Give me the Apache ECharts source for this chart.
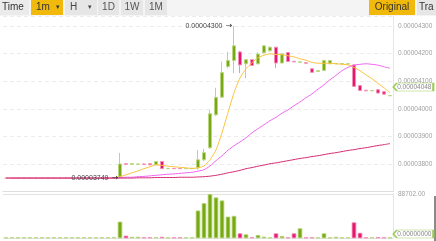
<!DOCTYPE html>
<html><head><meta charset="utf-8">
<script src="https://cdn.jsdelivr.net/npm/echarts@6/dist/echarts.min.js"></script>
<style>html,body{margin:0;padding:0;background:#fff}#c{width:436px;height:241px}</style>
</head><body><div id="c"></div>
<script>
// prices in units of 1e-8
const openP  = [3749,3749,3749,3749,3749,3749,3749,3749,3749,3749,3749,3749,3749,3749,3749,3749,3749,3749,3749,
  3752,3801,3799,3799,3800,3801,3797,3809,3783,3784,3784,3783,3783,
  3786,3815,3859,3978,4042,4153,4175,4206,4163,4178,4163,4203,4210,4223,4166,4204,4172,4169,4167,
  4145,4135,4139,4163,4163,4163,4162,4159,4084,4067,4065,4069,4062,4047];
const closeP = [3749,3749,3749,3749,3749,3749,3749,3749,3749,3749,3749,3749,3749,3749,3749,3749,3749,3749,3749,
  3800,3799,3801,3800,3798,3797,3809,3783,3784,3783,3783,3784,3784,
  3815,3841,3982,4041,4131,4175,4228,4159,4178,4157,4198,4228,4223,4166,4199,4171,4170,4170,4165,
  4132,4138,4175,4175,4164,4164,4163,4081,4066,4065,4066,4057,4053,4048];
const lowP   = [3749,3749,3749,3749,3749,3749,3749,3749,3749,3749,3749,3749,3749,3749,3749,3749,3749,3749,3749,
  3749,3798,3798,3798,3797,3796,3796,3782,3782,3782,3782,3782,3783,
  3780,3810,3855,3975,4040,4147,4129,4129,4111,4155,4161,4200,4208,4147,4164,4170,4169,4168,4164,
  4131,4134,4138,4162,4162,4162,4161,4080,4065,4064,4064,4056,4052,4047];
const highP  = [3749,3749,3749,3749,3749,3749,3749,3749,3749,3749,3749,3749,3749,3749,3749,3749,3749,3749,3749,
  3840,3802,3802,3801,3801,3802,3810,3810,3785,3785,3784,3785,3785,
  3851,3855,3996,4076,4171,4206,4300,4210,4180,4180,4205,4230,4226,4225,4200,4206,4173,4171,4168,
  4146,4139,4177,4176,4165,4165,4164,4160,4085,4068,4067,4070,4063,4048];
const volume = [0,0,0,0,0,0,0,0,0,0,0,0,0,0,0,0,0,0,0,
  33500,5300,3000,3000,0,0,0,3000,0,0,0,0,0,
  55600,70500,88702,81900,75800,43500,45000,10000,8000,2000,6700,3300,2000,10000,4700,2000,10000,20000,0,
  2000,1000,10000,1000,3000,1000,0,32000,11000,1000,1000,2500,1500,0];
const maYellow = [3749,3749,3749,3749,3749,3749,3749,3749,3749,3749,3749,3749,3749,3749,3749,3749,3749,3749,3749,
  3754,3761,3768,3775,3783,3790,3797,3795,3792,3790,3788,3786,3784,
  3786,3793,3815,3851,3913,3986,4058,4112,4145,4167,4185,4194,4199,4197,4196,4192,4188,4181,4176,
  4168,4165,4165,4165,4163,4161,4159,4150,4138,4123,4109,4092,4076,4058];
const maMagenta = [3749,3749,3749,3749,3749,3749,3749,3749,3749,3749,3749,3749,3749,3749,3749,3749,3749,3749,3749,
  3750,3752,3752,3754,3755,3757,3759,3761,3763,3764,3766,3768,3770,
  3774,3779,3793,3812,3830,3850,3866,3880,3895,3913,3928,3942,3957,3969,3984,3996,4011,4025,4040,
  4054,4071,4087,4105,4121,4138,4150,4158,4161,4163,4161,4158,4152,4147];
const maCrimson = [3749,3749,3749,3749,3749,3749,3749,3749,3749,3749,3749,3749,3749,3749,3749,3749,3749,3749,3749,
  3749,3749,3749,3750,3750,3750,3751,3751,3751,3751,3752,3752,3752,
  3753,3754,3756,3759,3763,3768,3772,3777,3783,3787,3792,3796,3801,3804,3808,3812,3816,3820,3823,
  3827,3830,3834,3838,3841,3845,3849,3852,3856,3859,3863,3867,3870,3874];
const yTicks = [3800,3900,4000,4100,4200,4300];
const volMax = 88702;
const categories = openP.map((_, i) => String(i));

const GREEN = '#78a914', GREEN_L = '#b9d77e', PINK = '#e8166f', PINK_L = '#f38fb6';
const fmt = v => (v / 1e8).toFixed(8);
const FONT = 'Liberation Sans, Arial, sans-serif';

const candleData = openP.map((o, i) => [o, closeP[i], lowP[i], highP[i]]);
const volData = volume.map((v, i) => {
  const up = closeP[i] >= openP[i];
  return { value: v, itemStyle: { color: up ? GREEN : PINK, borderColor: up ? GREEN_L : PINK_L } };
});
const last = openP.length - 1;
const hiIdx = highP.indexOf(Math.max(...highP));
const minLow = Math.min(...lowP);
const loIdx = lowP.lastIndexOf(minLow);

const arrowLabel = v => ({
  show: true, position: 'left', distance: 1,
  formatter: '{t|' + fmt(v) + '} {a|\u2192}',
  rich: {
    t: { color: '#444', fontSize: 7, fontFamily: FONT },
    a: { color: '#333', fontSize: 8, fontFamily: 'DejaVu Sans' }
  }
});

const chart = echarts.init(document.getElementById('c'), null, { renderer: 'canvas' });
const btn = (x, w, fill) => ({ type: 'rect', shape: { x: x, y: 0, width: w, height: 15 }, style: { fill: fill } });
const txt = (x, t, color, size, align) => ({ type: 'text', x: x, y: 7.5,
  style: { text: t, fill: color, font: (size || 10) + 'px ' + FONT, textVerticalAlign: 'middle', textAlign: align || 'left',
    verticalAlign: 'middle', align: align || 'left' } });

chart.setOption({
  animation: false,
  textStyle: { fontFamily: FONT },
  graphic: [
    { type: 'rect', shape: { x: 0, y: 0, width: 436, height: 16 }, style: { fill: '#f4f4f4' } },
    btn(0, 29, '#ebebeb'), txt(2, 'Time', '#333'),
    btn(31, 32, '#f0b90b'), txt(36, '1m', '#333'), txt(56, '▾', '#333', 7),
    btn(65, 32, '#e6e6e6'), txt(70, 'H', '#444'), txt(88, '▾', '#444', 7),
    btn(98, 21, '#e6e6e6'), txt(108.5, '1D', '#555', 10, 'center'),
    btn(121, 22, '#e6e6e6'), txt(132, '1W', '#555', 10, 'center'),
    btn(145, 22, '#e6e6e6'), txt(156, '1M', '#555', 10, 'center'),
    btn(369, 46, '#f0b90b'), txt(392, 'Original', '#333', 10, 'center'),
    btn(417, 19, '#e6e6e6'), txt(419, 'Tra', '#333'),
    { type: 'rect', shape: { x: 434, y: 196, width: 2, height: 45 }, style: { fill: '#8a8a8a' } }
  ],
  grid: [
    { left: 3, right: 43, top: 16.3, height: 175.3 },
    { left: 3, right: 43, top: 194, height: 44.3 }
  ],
  xAxis: [
    { type: 'category', gridIndex: 0, data: categories, boundaryGap: true,
      axisLine: { show: true, lineStyle: { color: '#dedede' } }, axisTick: { show: false }, axisLabel: { show: false }, splitLine: { show: false } },
    { type: 'category', gridIndex: 1, data: categories, boundaryGap: true,
      axisLine: { show: false }, axisTick: { show: false }, axisLabel: { show: false }, splitLine: { show: false } }
  ],
  yAxis: [
    { type: 'value', gridIndex: 0, position: 'right', min: 3700, max: 4335, interval: 100,
      axisLine: { show: true, lineStyle: { color: '#e6e6e6' } }, axisTick: { show: false },
      splitLine: { show: true, lineStyle: { color: '#ececec', type: [4, 3] } },
      axisLabel: { show: true, margin: 5, fontSize: 6.5, color: '#a0a0a0', fontFamily: FONT,
        showMinLabel: false, showMaxLabel: false,
        formatter: v => (yTicks.indexOf(Math.round(v)) >= 0 ? fmt(v) : '') } },
    { type: 'value', gridIndex: 1, position: 'right', min: 0, max: volMax, interval: volMax,
      axisLine: { show: true, lineStyle: { color: '#e6e6e6' } }, axisTick: { show: false },
      splitLine: { show: true, lineStyle: { color: '#e2e2e2' } },
      axisLabel: { show: true, margin: 5, fontSize: 6.5, color: '#a0a0a0', fontFamily: FONT,
        formatter: v => (v > 0 ? v.toFixed(2) : '') } }
  ],
  series: [
    { type: 'candlestick', xAxisIndex: 0, yAxisIndex: 0, data: candleData, barWidth: 4.4,
      itemStyle: { color: GREEN, color0: PINK, borderColor: GREEN_L, borderColor0: PINK_L, borderWidth: 1 },
      markPoint: {
        data: [
          { coord: [hiIdx, highP[hiIdx]], value: highP[hiIdx], symbol: 'circle', symbolSize: 1,
            itemStyle: { color: 'rgba(0,0,0,0)' }, label: arrowLabel(highP[hiIdx]) },
          { coord: [loIdx, minLow], value: minLow, symbol: 'circle', symbolSize: 1,
            itemStyle: { color: 'rgba(0,0,0,0)' }, label: arrowLabel(minLow) },
          { coord: [last, closeP[last]], value: closeP[last],
            symbol: 'path://M0,4 L4,0 L44,0 L44,8 L4,8 Z', symbolSize: [40, 8], symbolKeepAspect: false,
            symbolOffset: [23.3, -8.6],
            itemStyle: { color: '#fff', borderColor: '#9fcc5f', borderWidth: 1 },
            label: { show: true, position: 'inside', offset: [1, 0], color: '#888', fontSize: 6.5, fontFamily: FONT,
              formatter: fmt(closeP[last]) } }
        ]
      } },
    { type: 'line', xAxisIndex: 0, yAxisIndex: 0, data: maYellow, showSymbol: false, smooth: 0.2,
      lineStyle: { color: '#fcc23b', width: 1 } },
    { type: 'line', xAxisIndex: 0, yAxisIndex: 0, data: maMagenta, showSymbol: false, smooth: 0.2,
      lineStyle: { color: '#f064ee', width: 1 } },
    { type: 'line', xAxisIndex: 0, yAxisIndex: 0, data: maCrimson, showSymbol: false, smooth: 0.2,
      lineStyle: { color: '#d52a74', width: 1 } },
    { type: 'bar', xAxisIndex: 1, yAxisIndex: 1, data: volData, barWidth: 4.6, barMinHeight: 1,
      itemStyle: { borderWidth: 0.8 },
      markPoint: {
        data: [
          { coord: [last, volume[last]], value: volume[last],
            symbol: 'path://M0,4 L4,0 L44,0 L44,8 L4,8 Z', symbolSize: [40, 8], symbolKeepAspect: false,
            symbolOffset: [23.3, -4.3],
            itemStyle: { color: '#fff', borderColor: '#9fcc5f', borderWidth: 1 },
            label: { show: true, position: 'inside', offset: [1, 0], color: '#888', fontSize: 6.5, fontFamily: FONT,
              formatter: fmt(volume[last]) } }
        ]
      } }
  ]
});
</script></body></html>
